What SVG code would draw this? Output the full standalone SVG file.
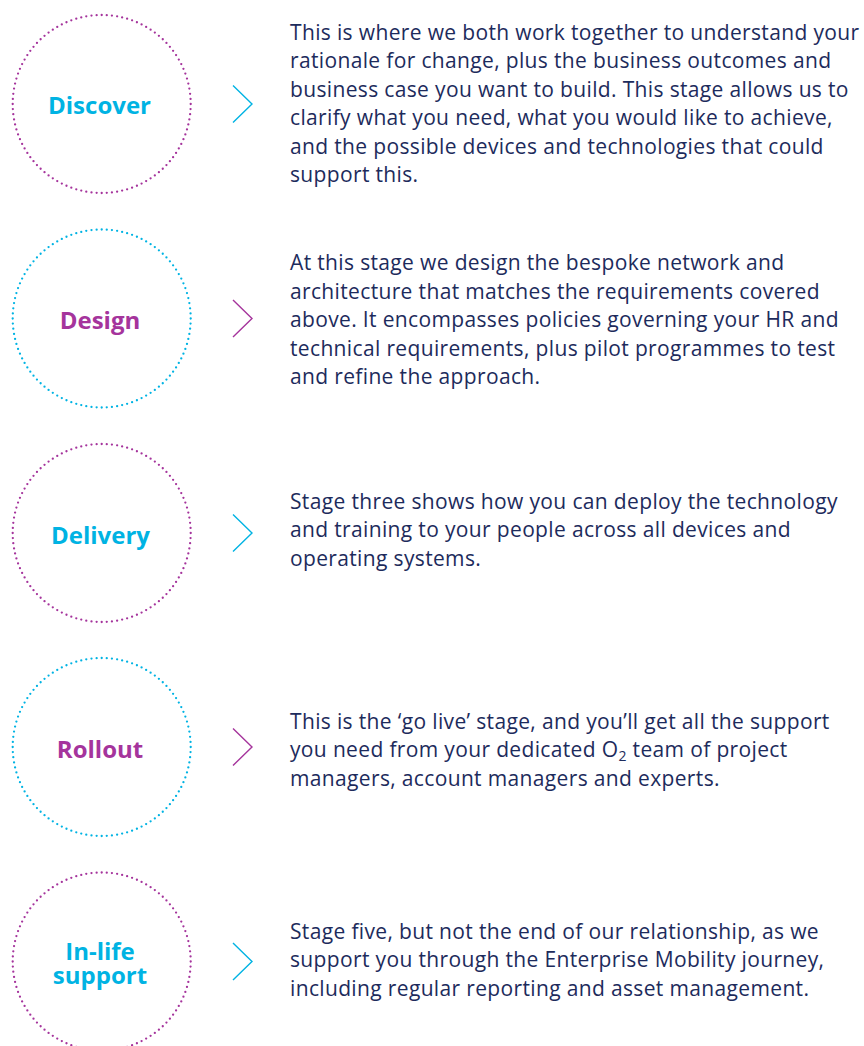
<svg xmlns="http://www.w3.org/2000/svg" width="864" height="1046" viewBox="0 0 864 1046">
<style>
.ring{fill:none;stroke-width:2.3;stroke-linecap:round;stroke-dasharray:0 1}
.rm{stroke:#a5349c}
.rc{stroke:#00b3e3}
.lab{font-family:"Open Sans","Liberation Sans",sans-serif;font-weight:bold;font-size:24px;text-anchor:middle}
.lc{fill:#00b3e3}
.lm{fill:#a5349c}
.chev{fill:none;stroke-width:1.4}
.body{font-family:"Open Sans","Liberation Sans",sans-serif;font-size:21px;letter-spacing:0.35px;fill:#1d2b5c}
</style>
<rect width="864" height="1046" fill="#ffffff"/>
<g id="connectors">
<polyline class="chev" stroke="#00b3e3" points="233,85.5 252,104 233,122.5"/>
<polyline class="chev" stroke="#a5349c" points="233,300 252,318.5 233,337"/>
<polyline class="chev" stroke="#00b3e3" points="233,514.5 252,533 233,551.5"/>
<polyline class="chev" stroke="#a5349c" points="233,728.5 252,747 233,765.5"/>
<polyline class="chev" stroke="#00b3e3" points="233,943 252,961.5 233,980"/>
</g>
<g id="node-discover">
<circle class="ring rm" cx="101.7" cy="104" r="89" pathLength="108"/>
<text class="lab lc" x="99.5" y="114">Discover</text>
</g>
<g id="text-discover">
<text class="body" x="290" y="39.5">This is where we both work together to understand your</text>
<text class="body" x="290" y="68">rationale for change, plus the business outcomes and</text>
<text class="body" x="290" y="96.5">business case you want to build. This stage allows us to</text>
<text class="body" x="290" y="125">clarify what you need, what you would like to achieve,</text>
<text class="body" x="290" y="153.5">and the possible devices and technologies that could</text>
<text class="body" x="290" y="182">support this.</text>
</g>
<g id="node-design">
<circle class="ring rc" cx="101.7" cy="318.5" r="89" pathLength="108"/>
<text class="lab lm" x="100" y="329">Design</text>
</g>
<g id="text-design">
<text class="body" x="290" y="270">At this stage we design the bespoke network and</text>
<text class="body" x="290" y="298.5">architecture that matches the requirements covered</text>
<text class="body" x="290" y="327">above. It encompasses policies governing your HR and</text>
<text class="body" x="290" y="355.5">technical requirements, plus pilot programmes to test</text>
<text class="body" x="290" y="384">and refine the approach.</text>
</g>
<g id="node-delivery">
<circle class="ring rm" cx="101.7" cy="533" r="89" pathLength="108"/>
<text class="lab lc" x="100.5" y="543.5">Delivery</text>
</g>
<g id="text-delivery">
<text class="body" x="290" y="508.5">Stage three shows how you can deploy the technology</text>
<text class="body" x="290" y="537">and training to your people across all devices and</text>
<text class="body" x="290" y="565.5">operating systems.</text>
</g>
<g id="node-rollout">
<circle class="ring rc" cx="101.7" cy="747" r="89" pathLength="108"/>
<text class="lab lm" x="100" y="757.5">Rollout</text>
</g>
<g id="text-rollout">
<text class="body" x="290" y="728.5">This is the ‘go live’ stage, and you’ll get all the support</text>
<text class="body" x="290" y="757">you need from your dedicated O<tspan font-size="14" dy="4">2</tspan><tspan dy="-4"> team of project</tspan></text>
<text class="body" x="290" y="785.5">managers, account managers and experts.</text>
</g>
<g id="node-inlife">
<circle class="ring rm" cx="101.7" cy="961.5" r="89" pathLength="108"/>
<text class="lab lc"><tspan x="100" y="959.5">In-life</tspan><tspan x="100" y="984">support</tspan></text>
</g>
<g id="text-inlife">
<text class="body" x="290" y="938.5">Stage five, but not the end of our relationship, as we</text>
<text class="body" x="290" y="967">support you through the Enterprise Mobility journey,</text>
<text class="body" x="290" y="995.5">including regular reporting and asset management.</text>
</g>
</svg>
